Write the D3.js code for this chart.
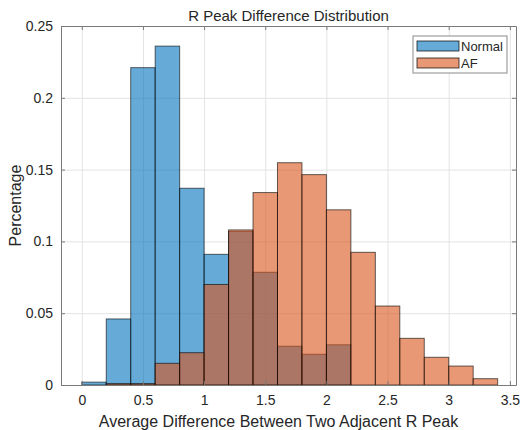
<!DOCTYPE html>
<html>
<head>
<meta charset="utf-8">
<script src="https://cdn.jsdelivr.net/npm/d3@7"></script>
<style>
  body { margin: 0; background: #fff; }
  text { font-family: "Liberation Sans", Arial, sans-serif; fill: #262626; }
</style>
</head>
<body>
<div id="chart"></div>
<script>
// bin edges (0 to 3.4, step 0.2)
const binEdges = [0, 0.2, 0.4, 0.6, 0.8, 1.0, 1.2, 1.4, 1.6, 1.8, 2.0, 2.2, 2.4, 2.6, 2.8, 3.0, 3.2, 3.4];
const normalValues = [0.002, 0.046, 0.221, 0.236, 0.137, 0.091, 0.107, 0.0785, 0.027, 0.0214, 0.028, 0, 0, 0, 0, 0, 0];
const afValues     = [0, 0.001, 0.001, 0.0151, 0.0225, 0.070, 0.108, 0.134, 0.1548, 0.1465, 0.122, 0.0924, 0.055, 0.0325, 0.0193, 0.0132, 0.0044];
const xTicks = [0, 0.5, 1, 1.5, 2, 2.5, 3, 3.5];
const xTickLabels = ["0", "0.5", "1", "1.5", "2", "2.5", "3", "3.5"];
const yTicks = [0, 0.05, 0.1, 0.15, 0.2, 0.25];
const yTickLabels = ["0", "0.05", "0.1", "0.15", "0.2", "0.25"];
const seriesNames = ["Normal", "AF"];

const width = 520;
const height = 430;
const margin = { top: 26, bottom: 45, left: 61, right: 4 };

const svg = d3.select("#chart")
    .append("svg")
    .attr("width", width)
    .attr("height", height)

const x = d3.scaleLinear().domain([-0.17, 3.55]).range([margin.left, width - margin.right])
const y = d3.scaleLinear().domain([0, 0.25]).range([height - margin.bottom, margin.top])
const color = d3.scaleOrdinal().domain(seriesNames).range(["#0072BD", "#D95319"])

const plotW = width - margin.left - margin.right
const plotH = height - margin.top - margin.bottom

// grid
svg.append("g")
    .attr("transform", `translate(0, ${height - margin.bottom})`)
    .call(d3.axisBottom(x).tickValues(xTicks).tickSize(-plotH).tickFormat(""))
    .call(g => g.select(".domain").remove())
    .call(g => g.selectAll("line").attr("stroke", "#e3e3e3"))
svg.append("g")
    .attr("transform", `translate(${margin.left}, 0)`)
    .call(d3.axisLeft(y).tickValues(yTicks).tickSize(-plotW).tickFormat(""))
    .call(g => g.select(".domain").remove())
    .call(g => g.selectAll("line").attr("stroke", "#e3e3e3"))

// bars
const series = [
    { name: "Normal", values: normalValues },
    { name: "AF", values: afValues }
]

series.forEach(s => {
    svg.append("g")
        .selectAll("rect")
        .data(s.values.map((v, i) => ({ x0: binEdges[i], x1: binEdges[i + 1], v: v })).filter(d => d.v > 0))
        .join("rect")
            .attr("x", d => x(d.x0))
            .attr("y", d => y(d.v))
            .attr("width", d => x(d.x1) - x(d.x0))
            .attr("height", d => y(0) - y(d.v))
            .attr("fill", color(s.name))
            .attr("fill-opacity", 0.6)
            .attr("stroke", "#000")
            .attr("stroke-opacity", 0.6)
            .attr("stroke-width", 1)
})

// axes with inward ticks
const axisColor = "#7a7a7a"
const styleAxis = g => {
    g.select(".domain").attr("stroke", axisColor)
    g.selectAll(".tick line").attr("stroke", axisColor)
    g.selectAll("text").attr("font-size", 14).attr("fill", "#262626")
}
svg.append("g")
    .attr("transform", `translate(0, ${height - margin.bottom})`)
    .call(d3.axisBottom(x).tickValues(xTicks).tickSizeInner(-4).tickSizeOuter(0).tickPadding(10)
        .tickFormat((d, i) => xTickLabels[i]))
    .call(styleAxis)
svg.append("g")
    .attr("transform", `translate(0, ${margin.top})`)
    .call(d3.axisTop(x).tickValues(xTicks).tickSizeInner(-4).tickSizeOuter(0).tickFormat(""))
    .call(styleAxis)
svg.append("g")
    .attr("transform", `translate(${margin.left}, 0)`)
    .call(d3.axisLeft(y).tickValues(yTicks).tickSizeInner(-4).tickSizeOuter(0).tickPadding(8)
        .tickFormat((d, i) => yTickLabels[i]))
    .call(styleAxis)
svg.append("g")
    .attr("transform", `translate(${width - margin.right}, 0)`)
    .call(d3.axisRight(y).tickValues(yTicks).tickSizeInner(-4).tickSizeOuter(0).tickFormat(""))
    .call(styleAxis)

// title and labels
svg.append("text")
    .text("R Peak Difference Distribution")
    .attr("x", (margin.left + width - margin.right) / 2)
    .attr("y", 21)
    .attr("text-anchor", "middle")
    .attr("font-size", 15)

svg.append("text")
    .text("Average Difference Between Two Adjacent R Peak")
    .attr("x", (margin.left + width - margin.right) / 2 - 10)
    .attr("y", 427)
    .attr("text-anchor", "middle")
    .attr("font-size", 16)

svg.append("text")
    .text("Percentage")
    .attr("transform", `translate(21, ${(margin.top + height - margin.bottom) / 2}) rotate(-90)`)
    .attr("text-anchor", "middle")
    .attr("font-size", 16)

// legend
const legend = svg.append("g").attr("transform", "translate(413, 36)")
legend.append("rect")
    .attr("width", 94)
    .attr("height", 37)
    .attr("fill", "#fff")
    .attr("stroke", "#8a8a8a")
    .attr("stroke-width", 1)

seriesNames.forEach((name, i) => {
    legend.append("rect")
        .attr("x", 4)
        .attr("y", 5 + i * 17)
        .attr("width", 42)
        .attr("height", 10)
        .attr("fill", color(name))
        .attr("fill-opacity", 0.6)
        .attr("stroke", "#000")
        .attr("stroke-opacity", 0.7)
    legend.append("text")
        .text(name)
        .attr("x", 48)
        .attr("y", 14.5 + i * 17)
        .attr("font-size", 13)
        .attr("fill", "#000")
})
</script>
</body>
</html>
